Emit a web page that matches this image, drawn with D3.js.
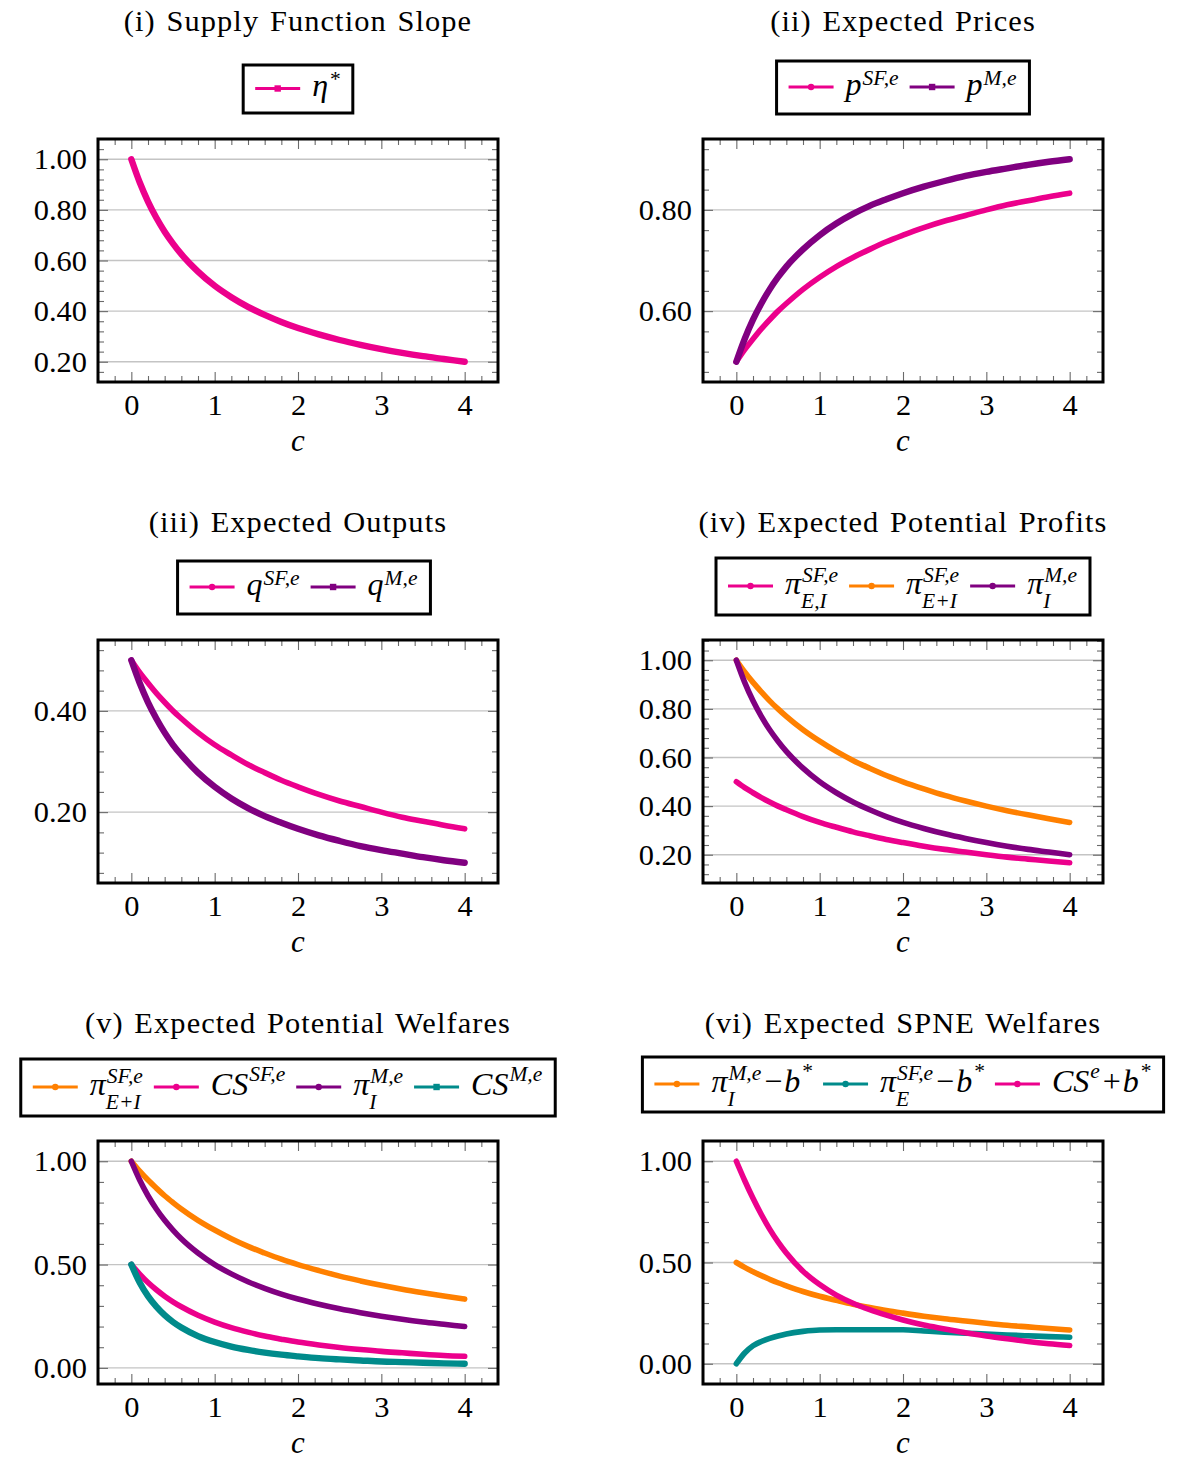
<!DOCTYPE html>
<html><head><meta charset="utf-8">
<script src="https://cdn.jsdelivr.net/npm/d3@7"></script>
<style>body{margin:0;background:#fff} svg{display:block;font-family:"Liberation Serif","Times New Roman",serif}</style>
</head><body><svg id="chart" width="1177" height="1463"></svg>
<script>
// ---------------- data ----------------
const cGrid = [0,0.1,0.2,0.3,0.4,0.5,0.6,0.8,1,1.2,1.4,1.6,1.8,2,2.25,2.5,2.75,3,3.25,3.5,3.75,4];
const xTicks = [0,1,2,3,4];

const etaStar = [1.000,0.909,0.833,0.769,0.714,0.667,0.625,0.556,0.500,0.455,0.417,0.385,0.357,0.333,0.308,0.286,0.267,0.250,0.235,0.222,0.211,0.200];
const pSF = [0.500,0.524,0.545,0.565,0.583,0.600,0.615,0.643,0.667,0.688,0.706,0.722,0.737,0.750,0.765,0.778,0.789,0.800,0.810,0.818,0.826,0.833];
const pM  = [0.500,0.545,0.583,0.615,0.643,0.667,0.688,0.722,0.750,0.773,0.792,0.808,0.821,0.833,0.846,0.857,0.867,0.875,0.882,0.889,0.895,0.900];
const qSF = [0.500,0.476,0.455,0.435,0.417,0.400,0.385,0.357,0.333,0.313,0.294,0.278,0.263,0.250,0.235,0.222,0.211,0.200,0.190,0.182,0.174,0.167];
const qM  = [0.500,0.455,0.417,0.385,0.357,0.333,0.313,0.278,0.250,0.227,0.208,0.192,0.179,0.167,0.154,0.143,0.133,0.125,0.118,0.111,0.105,0.100];
const piSF_EI   = [0.500,0.476,0.455,0.435,0.417,0.400,0.385,0.357,0.333,0.313,0.294,0.278,0.263,0.250,0.235,0.222,0.211,0.200,0.190,0.182,0.174,0.167];
const piSF_EpI  = [1.000,0.952,0.909,0.870,0.833,0.800,0.769,0.714,0.667,0.625,0.588,0.556,0.526,0.500,0.471,0.444,0.421,0.400,0.381,0.364,0.348,0.333];
const piM_I     = [1.000,0.909,0.833,0.769,0.714,0.667,0.625,0.556,0.500,0.455,0.417,0.385,0.357,0.333,0.308,0.286,0.267,0.250,0.235,0.222,0.211,0.200];
const csSF = [0.500,0.454,0.413,0.378,0.347,0.320,0.296,0.255,0.222,0.195,0.173,0.154,0.139,0.125,0.111,0.099,0.089,0.080,0.073,0.066,0.060,0.056];
const csM  = [0.500,0.413,0.347,0.296,0.255,0.222,0.195,0.154,0.125,0.103,0.087,0.074,0.064,0.056,0.047,0.041,0.036,0.031,0.028,0.025,0.022,0.020];
const spneIncumbent = [0.500,0.476,0.455,0.435,0.417,0.400,0.385,0.357,0.333,0.313,0.294,0.278,0.263,0.250,0.235,0.222,0.211,0.200,0.190,0.182,0.174,0.167];
const spneEntrant   = [0.000,0.053,0.089,0.110,0.125,0.137,0.147,0.160,0.167,0.168,0.168,0.168,0.168,0.168,0.162,0.156,0.151,0.147,0.142,0.138,0.134,0.131];
const spneConsumer  = [1.000,0.905,0.817,0.737,0.665,0.602,0.547,0.457,0.391,0.339,0.299,0.267,0.240,0.216,0.191,0.172,0.153,0.137,0.123,0.110,0.099,0.090];

const yTicks1 = [0.2,0.4,0.6,0.8,1.0];
const yTicks2 = [0.6,0.8];
const yTicks3 = [0.2,0.4];
const yTicks4 = [0.2,0.4,0.6,0.8,1.0];
const yTicks5 = [0,0.5,1.0];
const yTicks6 = [0,0.5,1.0];

const titles = ["(i) Supply Function Slope","(ii) Expected Prices","(iii) Expected Outputs",
                "(iv) Expected Potential Profits","(v) Expected Potential Welfares","(vi) Expected SPNE Welfares"];

// ---------------- styles ----------------
const MAG="#EC008C", PUR="#800080", ORA="#FF8000", TEA="#008B8B";

const panels = [
 {title:titles[0], yTicks:yTicks1, minor:0.04, legend:{top:65,h:48,dx:0}, series:[
   {values:etaStar,color:MAG,mk:"sq",label:[{t:"η"},{sup:"*"}]} ]},
 {title:titles[1], yTicks:yTicks2, minor:0.04, legend:{top:61,h:53,dx:0}, series:[
   {values:pSF,color:MAG,mk:"ci",label:[{t:"p"},{sup:"SF,e"}]},
   {values:pM,color:PUR,mk:"sq",label:[{t:"p"},{sup:"M,e"}]} ]},
 {title:titles[2], yTicks:yTicks3, minor:0.04, legend:{top:561,h:53,dx:6}, series:[
   {values:qSF,color:MAG,mk:"ci",label:[{t:"q"},{sup:"SF,e"}]},
   {values:qM,color:PUR,mk:"sq",label:[{t:"q"},{sup:"M,e"}]} ]},
 {title:titles[3], yTicks:yTicks4, minor:0.04, legend:{top:558,h:57,dx:0}, series:[
   {values:piSF_EI,color:MAG,mk:"ci",label:[{t:"π"},{sup:"SF,e",sub:"E,I"}]},
   {values:piSF_EpI,color:ORA,mk:"ci",label:[{t:"π"},{sup:"SF,e",sub:"E+I"}]},
   {values:piM_I,color:PUR,mk:"ci",label:[{t:"π"},{sup:"M,e",sub:"I"}]} ]},
 {title:titles[4], yTicks:yTicks5, minor:0.1, legend:{top:1059,h:57,dx:-10}, series:[
   {values:piSF_EpI,color:ORA,mk:"ci",label:[{t:"π"},{sup:"SF,e",sub:"E+I"}]},
   {values:csSF,color:MAG,mk:"ci",label:[{t:"CS",hi:true},{sup:"SF,e"}]},
   {values:piM_I,color:PUR,mk:"ci",label:[{t:"π"},{sup:"M,e",sub:"I"}]},
   {values:csM,color:TEA,mk:"sq",label:[{t:"CS",hi:true},{sup:"M,e"}]} ]},
 {title:titles[5], yTicks:yTicks6, minor:0.1, legend:{top:1057,h:55,dx:0}, series:[
   {values:spneIncumbent,color:ORA,mk:"ci",label:[{t:"π"},{sup:"M,e",sub:"I"},{t:"−",up:true},{t:"b",hi:true},{sup:"*"}]},
   {values:spneEntrant,color:TEA,mk:"ci",label:[{t:"π"},{sup:"SF,e",sub:"E"},{t:"−",up:true},{t:"b",hi:true},{sup:"*"}]},
   {values:spneConsumer,color:MAG,mk:"ci",label:[{t:"CS",hi:true},{sup:"e"},{t:"+",up:true},{t:"b",hi:true},{sup:"*"}]} ]}
];

const svg = d3.select("#chart");
const FW=400, FH=243;
const colX=[98,703], rowY=[139,640,1141];
const xDom=[-0.4,4.4];
const FS=30.4, LFS=32, SFS=21.5;

function enlarge(lo,hi){const r=hi-lo;return [lo-0.1*r, hi+0.1*r];}
function stepRange(dom, step){
  const out=[]; const s=Math.ceil(dom[0]/step-1e-9), e=Math.floor(dom[1]/step+1e-9);
  for(let k=s;k<=e;k++) out.push(+(k*step).toFixed(6));
  return out;
}

// one <text> per label; scripts are tspans placed explicitly
function drawLabel(g, parts, x, base){
  const txt=g.append("text").attr("x",x).attr("y",base);
  let cx=x, hi=false;
  parts.forEach(pt=>{
    if(pt.t!==undefined){
      const pad = pt.up?2:0;
      const t=txt.append("tspan").attr("x",cx+pad).attr("y",base).attr("font-size",LFS)
        .attr("font-style",pt.up?"normal":"italic").text(pt.t);
      cx+=t.node().getComputedTextLength()+2*pad;
      hi=!!pt.hi;
    } else {
      let w=0;
      const supShift = pt.sub ? 12 : (hi ? 14 : 10);
      if(pt.sup){const t=txt.append("tspan").attr("x",cx+1).attr("y",base-supShift).attr("font-size",SFS)
        .attr("font-style","italic").text(pt.sup); w=Math.max(w,t.node().getComputedTextLength()+1);}
      if(pt.sub){const t=txt.append("tspan").attr("x",cx).attr("y",base+14).attr("font-size",SFS)
        .attr("font-style","italic").text(pt.sub); w=Math.max(w,t.node().getComputedTextLength());}
      cx+=w+1;
    }
  });
  return cx;
}

function marker(g, type, cx, cy, color, size){
  if(type==="sq") g.append("rect").attr("x",cx-size).attr("y",cy-size).attr("width",2*size).attr("height",2*size).attr("fill",color);
  else g.append("circle").attr("cx",cx).attr("cy",cy).attr("r",size).attr("fill",color);
}

panels.forEach((p,i)=>{
  const x0=colX[i%2], y0=rowY[Math.floor(i/2)];
  const x=d3.scaleLinear().domain(xDom).range([0,FW]);
  const all=p.series.flatMap(s=>s.values);
  const yDom=enlarge(d3.min(all),d3.max(all));
  const y=d3.scaleLinear().domain(yDom).range([FH,0]);
  const g=svg.append("g").attr("transform",`translate(${x0},${y0})`);

  // title
  svg.append("text").attr("x",x0+FW/2).attr("y",y0-108).attr("text-anchor","middle")
    .attr("font-size",FS).attr("letter-spacing",1.1).attr("word-spacing",2).text(p.title);

  // grid
  g.selectAll(".grid").data(p.yTicks).join("line")
    .attr("x1",0).attr("x2",FW).attr("y1",d=>y(d)).attr("y2",d=>y(d))
    .attr("stroke","#c4c4c4").attr("stroke-width",1.3);

  // ticks
  const xMinor=stepRange(xDom,0.2).filter(v=>!xTicks.some(t=>Math.abs(t-v)<1e-6));
  const yMinor=stepRange(yDom,p.minor).filter(v=>!p.yTicks.some(t=>Math.abs(t-v)<1e-6));
  const tickCol="#6a6a6a";
  const axes=[
    [d3.axisBottom(x).tickValues(xMinor).tickSize(-6).tickFormat(""),`translate(0,${FH})`],
    [d3.axisTop(x).tickValues(xMinor).tickSize(-6).tickFormat(""),null],
    [d3.axisLeft(y).tickValues(yMinor).tickSize(-6).tickFormat(""),null],
    [d3.axisRight(y).tickValues(yMinor).tickSize(-6).tickFormat(""),`translate(${FW},0)`],
    [d3.axisTop(x).tickValues(xTicks).tickSize(-10).tickFormat(""),null],
    [d3.axisRight(y).tickValues(p.yTicks).tickSize(-10).tickFormat(""),`translate(${FW},0)`],
    [d3.axisBottom(x).tickValues(xTicks).tickSize(-10).tickPadding(11).tickFormat(d3.format("d")),`translate(0,${FH})`],
    [d3.axisLeft(y).tickValues(p.yTicks).tickSize(-10).tickPadding(11).tickFormat(d3.format(".2f")),null]
  ];
  axes.forEach(([ax,tr])=>{
    const a=g.append("g").call(ax);
    if(tr) a.attr("transform",tr);
    a.select(".domain").remove();
    a.selectAll(".tick line").attr("stroke",tickCol).attr("stroke-width",1.1);
    a.selectAll(".tick text").attr("font-size",FS).attr("font-family","Liberation Serif, serif").attr("fill","#000");
  });

  // curves
  const line=d3.line().x((d,k)=>x(cGrid[k])).y(d=>y(d)).curve(d3.curveMonotoneX);
  p.series.forEach(s=>{
    g.append("path").attr("d",line(s.values)).attr("fill","none").attr("stroke",s.color)
      .attr("stroke-width",s.mk==="sq"?6.4:5.6).attr("stroke-linecap","round").attr("stroke-linejoin","round");
  });

  // frame
  g.append("rect").attr("x",0).attr("y",0).attr("width",FW).attr("height",FH)
    .attr("fill","none").attr("stroke","#000").attr("stroke-width",3);

  // x label
  g.append("text").attr("x",x(2)).attr("y",FH+69).attr("text-anchor","middle")
    .attr("font-size",31).attr("font-style","italic").text("c");

  // legend
  const L=p.legend;
  const lg=svg.append("g");
  const base=L.top+L.h/2+7, ly=base-7.5;
  let cx=12;
  p.series.forEach((s,k)=>{
    lg.append("line").attr("x1",cx).attr("x2",cx+45).attr("y1",ly).attr("y2",ly)
      .attr("stroke",s.color).attr("stroke-width",3);
    marker(lg,s.mk,cx+22.5,ly,s.color,3.2);
    cx=drawLabel(lg,s.label,cx+57,base);
    cx+=10;
  });
  const lw=cx-10+12;
  lg.insert("rect",":first-child").attr("x",0).attr("y",L.top).attr("width",lw).attr("height",L.h)
    .attr("fill","#fff").attr("stroke","#000").attr("stroke-width",3);
  lg.attr("transform",`translate(${x0+FW/2-lw/2+L.dx},0)`);
});
</script>
</body></html>
